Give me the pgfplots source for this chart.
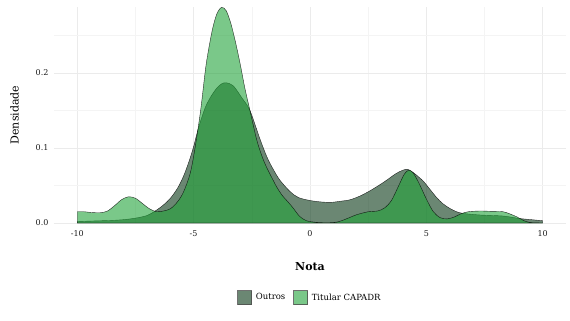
\documentclass[border=0pt]{standalone}
\usepackage{pgfplots}
\pgfplotsset{compat=1.18}
\usepackage{pgfplotstable}
\usepackage{fontspec}
\setmainfont{DejaVu Serif}
\definecolor{outros}{RGB}{8,55,22}
\definecolor{titular}{RGB}{34,163,58}
\definecolor{gridmaj}{RGB}{235,235,235}
\definecolor{gridmin}{RGB}{244,244,244}

\pgfplotstableread{
x y
-10 0.002
-9.5 0.0025
-9 0.003
-8.5 0.0035
-8 0.0045
-7.5 0.0065
-7 0.010
-6.65 0.016
-6.3 0.024
-6.0 0.033
-5.7 0.046
-5.44 0.062
-5.2 0.082
-5.0 0.102
-4.79 0.127
-4.5 0.154
-4.25 0.169
-4.0 0.180
-3.8 0.1855
-3.6 0.187
-3.3 0.183
-2.93 0.167
-2.58 0.150
-2.15 0.112
-1.85 0.088
-1.57 0.071
-1.29 0.057
-0.86 0.042
-0.5 0.034
0 0.030
0.5 0.028
0.9 0.0275
1.3 0.029
1.72 0.031
2.15 0.036
2.58 0.043
3.0 0.051
3.29 0.057
3.7 0.066
4.0 0.0705
4.2 0.0715
4.45 0.067
4.86 0.056
5.15 0.045
5.44 0.034
5.7 0.026
6.0 0.0196
6.3 0.015
6.58 0.0128
7.3 0.0107
8.3 0.0093
9.0 0.006
9.5 0.0045
10 0.003
}\outros

\pgfplotstableread{
x y
-10 0.015
-9.7 0.015
-9.4 0.014
-9.0 0.0137
-8.7 0.016
-8.4 0.023
-8.1 0.031
-7.8 0.035
-7.5 0.033
-7.2 0.026
-6.9 0.019
-6.6 0.015
-6.3 0.016
-6.0 0.019
-5.7 0.028
-5.44 0.041
-5.15 0.066
-4.94 0.100
-4.7 0.150
-4.46 0.212
-4.2 0.257
-4.0 0.279
-3.8 0.2875
-3.6 0.283
-3.4 0.266
-3.2 0.241
-3.0 0.212
-2.8 0.180
-2.58 0.150
-2.29 0.111
-2.05 0.088
-1.86 0.074
-1.6 0.058
-1.43 0.048
-1.2 0.037
-1.0 0.030
-0.75 0.021
-0.45 0.009
-0.15 0.003
0.3 0.0008
0.8 0.0003
1.2 0.0015
1.6 0.006
2.0 0.011
2.5 0.015
2.9 0.016
3.2 0.020
3.5 0.030
3.8 0.049
4.05 0.065
4.25 0.0705
4.45 0.066
4.7 0.052
5.0 0.032
5.3 0.015
5.6 0.007
5.9 0.0055
6.2 0.008
6.5 0.0125
6.8 0.015
7.3 0.016
7.8 0.0155
8.3 0.015
8.6 0.012
8.9 0.008
9.2 0.003
9.5 0.0005
10 0
}\titular

\begin{document}
\begin{tikzpicture}
\begin{axis}[
  scale only axis,
  width=512pt, height=216pt,
  xmin=-11, xmax=11, ymin=0, ymax=0.288,
  axis line style={draw=none},
  major tick length=0pt, minor tick length=0pt,
  xtick={-10,-5,0,5,10},
  xticklabels={-10,-5,0,5,10},
  minor xtick={-7.5,-2.5,2.5,7.5},
  ytick={0,0.1,0.2},
  yticklabels={0.0,0.1,0.2},
  minor ytick={0.05,0.15,0.25},
  grid=both,
  major grid style={gridmaj, line width=0.6pt},
  minor grid style={gridmin, line width=0.4pt},
  extra y ticks={0},
  extra y tick labels={},
  extra y tick style={grid style={black, line width=0.8pt}},
  tick label style={font=\fontsize{8}{9}\selectfont, text=black!90},
  xticklabel style={yshift=-4pt},
  yticklabel style={xshift=-2pt},
  xlabel={\textbf{Nota}},
  ylabel={Densidade},
  label style={font=\fontsize{11}{13}\selectfont},
  xlabel style={yshift=-19pt},
  ylabel style={yshift=10pt},
  legend style={at={(0.5,-0.345)}, anchor=center, draw=none, fill=none,
    legend columns=2, font=\fontsize{8.5}{10}\selectfont,
    /tikz/every odd column/.append style={column sep=2pt},
    /tikz/every even column/.append style={column sep=6pt}},
  legend image code/.code={\draw[#1, draw=black!70, line width=0.5pt] (0pt,-7pt) rectangle (14pt,7pt);},
]
\addplot[fill=outros, fill opacity=0.6, draw=black, draw opacity=0.8, line width=0.4pt, smooth, tension=0.5] table {\outros} \closedcycle;
\addlegendentry{Outros}
\addplot[fill=titular, fill opacity=0.6, draw=black, draw opacity=0.8, line width=0.4pt, smooth, tension=0.5] table {\titular} \closedcycle;
\addlegendentry{Titular CAPADR}
\end{axis}
\pgfresetboundingbox
\useasboundingbox ([xshift=-54pt,yshift=-98pt]current axis.south west) rectangle ([xshift=4pt,yshift=7pt]current axis.north east);
\end{tikzpicture}
\end{document}
